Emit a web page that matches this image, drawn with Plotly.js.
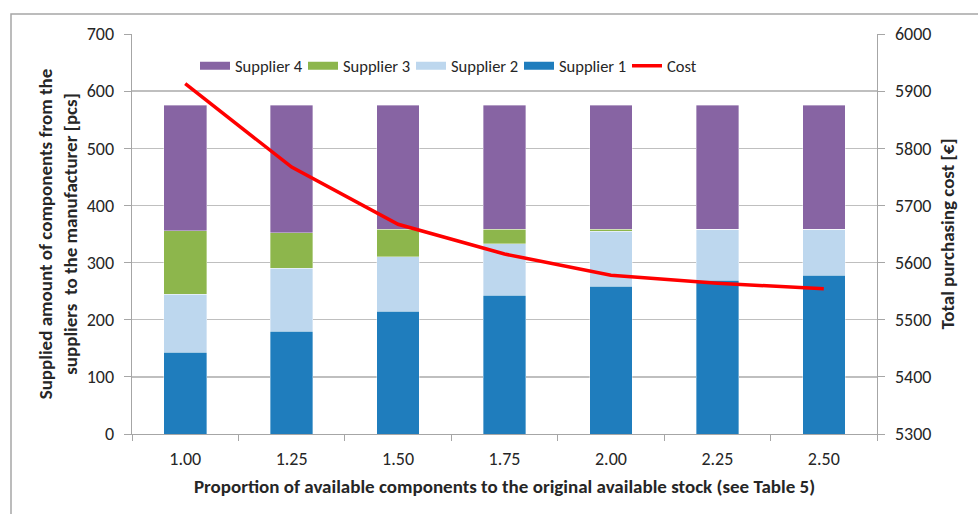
<!DOCTYPE html>
<html>
<head>
<meta charset="utf-8">
<script src="https://cdn.plot.ly/plotly-3.0.1.min.js"></script>
<style>
html,body{margin:0;padding:0;background:#fff;}
#chart{width:978px;height:514px;}
</style>
</head>
<body>
<div id="chart"></div>
<script>
const categories = ["1.00","1.25","1.50","1.75","2.00","2.25","2.50"];
const supplier1 = [143, 180, 215, 243, 259, 269, 278];
const supplier2 = [102, 110, 95, 90, 96, 89, 80];
const supplier3 = [111, 62, 48, 25, 3, 0, 0];
const supplier4 = [219, 223, 217, 217, 217, 217, 217];
const cost = [5913, 5767, 5667, 5615, 5578, 5564, 5554];

const seriesNames = ["Supplier 1", "Supplier 2", "Supplier 3", "Supplier 4"];
const seriesColors = ["#1f7dbd", "#bdd7ee", "#8db64c", "#8764a3"];
const seriesValues = [supplier1, supplier2, supplier3, supplier4];

const FONT = "Carlito, Calibri, 'Liberation Sans', Arial, sans-serif";
const barLine = {color: "rgba(255,255,255,0.6)", width: 0.6};

const traces = [];
seriesValues.forEach((vals, i) => {
  traces.push({type: "bar", name: seriesNames[i], x: categories, y: vals,
               marker: {color: seriesColors[i], line: barLine}, showlegend: false});
});
traces.push({type: "scatter", mode: "lines", name: "Cost", x: categories, y: cost, yaxis: "y2",
             line: {color: "#ff0000", width: 3.5}, showlegend: false});
// legend entries (wide swatches as in the original); they draw no marks
seriesNames.forEach((n, i) => {
  traces.push({type: "scatter", mode: "lines", name: n, x: [categories[0]], y: [null],
               line: {color: seriesColors[i], width: 8}, legendrank: 4 - i, hoverinfo: "skip"});
});
traces.push({type: "scatter", mode: "lines", name: "Cost", x: [categories[0]], y: [null], yaxis: "y2",
             line: {color: "#ff0000", width: 3.5}, legendrank: 5, hoverinfo: "skip"});

const L = 132, R = 877, T = 34, B = 434, W = 978, H = 514;
const pw = R - L, ph = B - T;
const px = v => (v - L) / pw;
const py = v => (B - v) / ph;

const layout = {
  width: W, height: H,
  margin: {l: L, r: W - R, t: T, b: H - B, pad: 0},
  paper_bgcolor: "#fff", plot_bgcolor: "#fff",
  font: {family: FONT, size: 18, color: "#262626"},
  barmode: "stack",
  bargap: 0.6,
  showlegend: true,
  legend: {orientation: "h", x: px(195), xanchor: "left", y: py(66), yanchor: "middle",
           bgcolor: "rgba(0,0,0,0)", font: {size: 16.5, color: "#262626"},
           entrywidth: 63, entrywidthmode: "pixels", itemwidth: 30, traceorder: "normal"},
  xaxis: {type: "category", tickson: "boundaries", ticks: "outside", ticklen: 6, tickcolor: "#a6a6a6",
          showline: true, linecolor: "#a6a6a6", linewidth: 1.3, showgrid: false,
          tickfont: {size: 18}, ticklabelstandoff: 8,
          title: {text: "<b>Proportion of available components to the original available stock (see Table 5)</b>",
                  font: {size: 19}, standoff: 10}},
  yaxis: {range: [0, 700], dtick: 100, ticks: "outside", ticklen: 7, tickcolor: "#a6a6a6",
          showline: true, linecolor: "#a6a6a6", linewidth: 1.3,
          showgrid: true, gridcolor: "#bfbfbf", gridwidth: 1.3, zeroline: false,
          tickfont: {size: 18}, ticklabelstandoff: 6,
          title: {text: "<b>Supplied amount of components from the<br>suppliers  to the manufacturer [pcs]</b>",
                  font: {size: 19}, standoff: 4}},
  yaxis2: {overlaying: "y", side: "right", range: [5300, 6000], dtick: 100, ticks: "outside", ticklen: 7,
           tickcolor: "#a6a6a6", showline: true, linecolor: "#a6a6a6", linewidth: 1.3,
           showgrid: false, zeroline: false, tickfont: {size: 18}, ticklabelstandoff: 6,
           title: {text: "<b>Total purchasing cost [€]</b>", font: {size: 19}, standoff: 10}},
  shapes: [
    {type: "rect", xref: "paper", yref: "paper", x0: px(11), x1: px(990), y0: py(530), y1: py(14),
     line: {color: "#a6a6a6", width: 1.5}, fillcolor: "rgba(0,0,0,0)", layer: "below"}
  ]
};

Plotly.newPlot("chart", traces, layout, {displayModeBar: false, staticPlot: true});
</script>
</body>
</html>
